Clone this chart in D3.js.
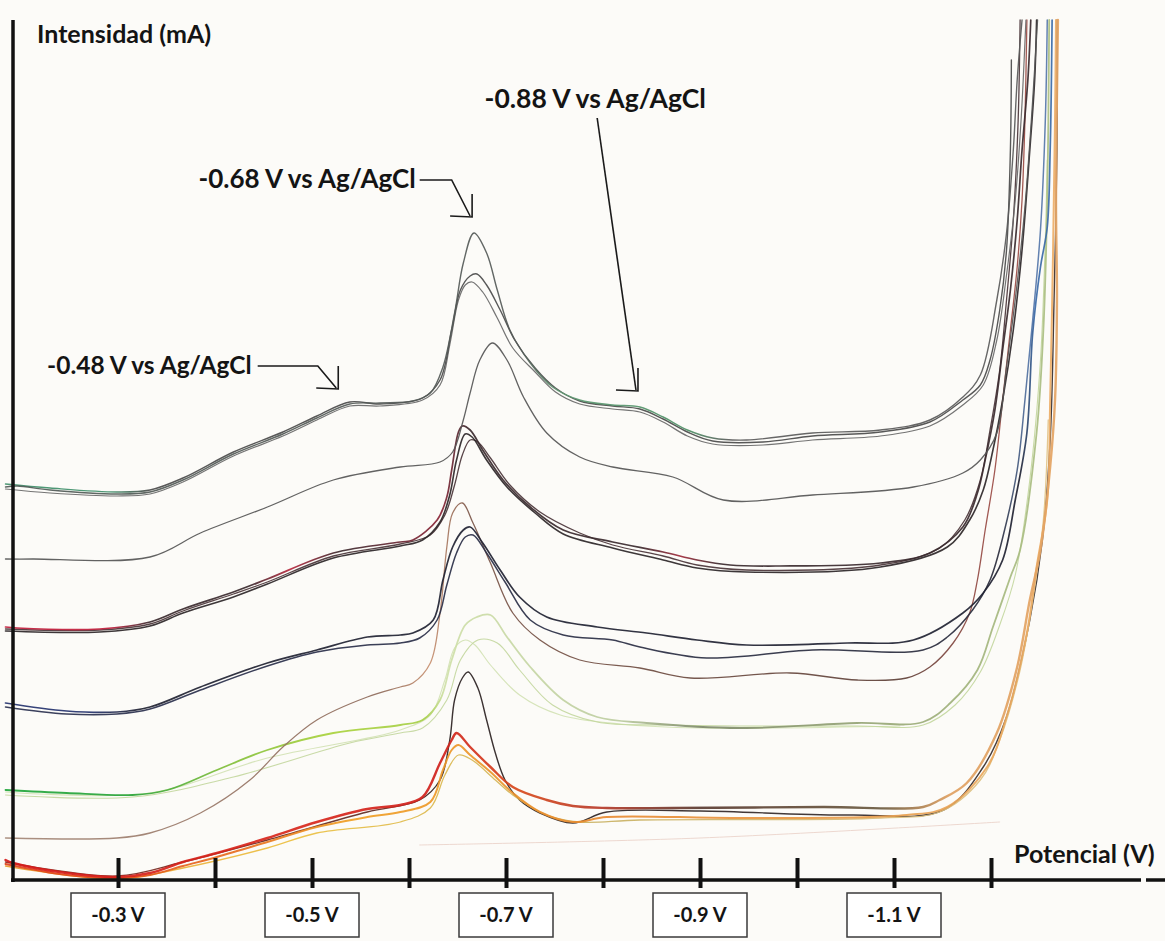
<!DOCTYPE html>
<html>
<head>
<meta charset="utf-8">
<script src="https://cdn.jsdelivr.net/npm/d3@7"></script>
<style>
  body { margin: 0; background: #fcfbf8; }
  svg { display: block; }
  text { font-family: Lato, "Open Sans", sans-serif; font-weight: bold; fill: #141414; }
</style>
</head>
<body>
<div id="chart"></div>
<script>
/* jshint esversion: 6 */
//// Data ////////////////////////////////////////////////////////////////////
// each curve: [potential (V vs Ag/AgCl), intensity (mA, arbitrary zero at axis)]

const tickPotentials = [-0.3, -0.4, -0.5, -0.6, -0.7, -0.8, -0.9, -1.0, -1.1, -1.2];
const labelPotentials = [-0.3, -0.5, -0.7, -0.9, -1.1];
const labelTexts = ["-0.3 V", "-0.5 V", "-0.7 V", "-0.9 V", "-1.1 V"];

const annotationTexts = ["-0.48 V vs Ag/AgCl", "-0.68 V vs Ag/AgCl", "-0.88 V vs Ag/AgCl"];
const annotationArrows = [
	[[-0.444, 51.4], [-0.506, 51.4], [-0.525, 49.2]],
	[[-0.611, 70.0], [-0.644, 70.0], [-0.663, 66.4]],
	[[-0.794, 76.2], [-0.834, 49.0]]
];

const curveA1 = [[-0.184,39.3],[-0.196,39.4],[-0.230,39.0],[-0.299,38.6],[-0.333,38.8],[-0.367,40.0],[-0.419,42.6],[-0.470,44.6],[-0.505,46.2],[-0.539,47.6],[-0.570,47.7],[-0.604,47.9],[-0.622,48.7],[-0.635,51.3],[-0.647,56.7],[-0.656,61.7],[-0.667,64.7],[-0.680,62.7],[-0.691,59.0],[-0.704,55.0],[-0.725,51.7],[-0.748,49.3],[-0.776,48.0],[-0.810,47.5],[-0.838,47.3],[-0.862,46.3],[-0.887,45.0],[-0.913,44.2],[-0.948,44.0],[-1.016,44.7],[-1.086,45.0],[-1.137,46.0],[-1.171,48.3],[-1.189,50.5],[-1.206,58.0],[-1.216,64.7],[-1.223,73.0],[-1.227,80.0],[-1.232,86.0]];
const curveA2 = [[-0.184,39.6],[-0.230,39.2],[-0.299,38.8],[-0.333,39.0],[-0.367,40.2],[-0.419,42.8],[-0.470,44.8],[-0.505,46.4],[-0.539,47.8],[-0.570,47.6],[-0.614,48.2],[-0.632,50.0],[-0.644,55.0],[-0.653,59.0],[-0.663,60.4],[-0.670,60.6],[-0.680,59.5],[-0.694,57.0],[-0.709,54.0],[-0.730,51.2],[-0.751,49.2],[-0.776,47.9],[-0.810,47.4],[-0.838,47.1],[-0.862,46.1],[-0.887,44.8],[-0.913,43.9],[-0.965,43.8],[-1.016,44.4],[-1.086,44.8],[-1.137,45.8],[-1.171,48.0],[-1.189,49.5],[-1.199,52.0],[-1.209,57.0],[-1.216,63.0],[-1.220,73.0],[-1.221,82.0]];
const curveA3 = [[-0.184,39.1],[-0.230,38.7],[-0.299,38.4],[-0.333,38.6],[-0.367,39.8],[-0.419,42.4],[-0.470,44.4],[-0.505,46.0],[-0.539,47.4],[-0.570,47.4],[-0.614,48.0],[-0.632,49.5],[-0.642,53.5],[-0.651,58.0],[-0.658,59.5],[-0.665,59.8],[-0.676,58.8],[-0.691,56.2],[-0.707,53.2],[-0.730,50.8],[-0.751,48.8],[-0.776,47.6],[-0.810,47.1],[-0.838,46.8],[-0.862,45.8],[-0.887,44.4],[-0.913,43.6],[-0.965,43.5],[-1.016,44.0],[-1.086,44.4],[-1.137,45.4],[-1.171,47.5],[-1.192,49.5],[-1.206,54.0],[-1.216,60.5],[-1.225,68.0],[-1.231,76.0],[-1.236,86.0]];
const curveB = [[-0.184,32.1],[-0.212,32.1],[-0.333,32.3],[-0.385,34.7],[-0.454,37.3],[-0.522,40.0],[-0.591,41.3],[-0.632,41.8],[-0.645,42.8],[-0.656,46.0],[-0.663,48.7],[-0.673,52.0],[-0.686,53.7],[-0.701,52.0],[-0.718,48.3],[-0.742,44.7],[-0.776,42.3],[-0.810,41.3],[-0.872,40.3],[-0.924,38.0],[-1.016,38.5],[-1.120,39.3],[-1.171,40.7],[-1.189,42.0],[-1.206,44.7],[-1.216,51.3],[-1.227,59.7],[-1.235,67.3],[-1.243,78.0],[-1.248,86.0]];
const curveC1 = [[-0.184,25.3],[-0.196,25.2],[-0.281,25.1],[-0.333,25.8],[-0.367,27.1],[-0.419,28.8],[-0.454,30.1],[-0.522,32.7],[-0.591,33.8],[-0.604,34.0],[-0.629,36.0],[-0.639,38.3],[-0.644,41.0],[-0.651,44.8],[-0.655,45.4],[-0.663,45.0],[-0.676,43.0],[-0.697,40.0],[-0.725,37.3],[-0.759,35.0],[-0.810,33.8],[-0.862,32.8],[-0.897,32.0],[-0.931,31.5],[-0.982,31.4],[-1.086,31.7],[-1.137,32.7],[-1.171,35.3],[-1.186,38.7],[-1.194,42.0],[-1.204,47.0],[-1.212,53.0],[-1.220,59.0],[-1.227,66.0],[-1.232,73.0],[-1.238,80.0],[-1.241,86.0]];
const curveC2 = [[-0.184,24.9],[-0.281,24.8],[-0.333,25.4],[-0.367,26.7],[-0.419,28.3],[-0.454,29.6],[-0.522,32.2],[-0.591,33.4],[-0.614,34.0],[-0.632,35.8],[-0.642,38.5],[-0.649,42.0],[-0.658,44.6],[-0.665,44.3],[-0.680,42.0],[-0.701,39.3],[-0.730,36.7],[-0.759,34.6],[-0.810,33.2],[-0.862,32.0],[-0.897,31.2],[-0.948,30.8],[-1.086,31.3],[-1.155,33.3],[-1.178,36.0],[-1.192,39.0],[-1.202,43.0],[-1.212,48.0],[-1.223,55.0],[-1.232,63.0],[-1.240,73.0],[-1.245,80.0],[-1.247,86.0]];
const curveC3 = [[-0.184,25.1],[-0.281,25.0],[-0.333,25.6],[-0.367,26.9],[-0.419,28.6],[-0.454,29.8],[-0.522,32.4],[-0.591,33.6],[-0.622,34.5],[-0.637,36.5],[-0.647,39.5],[-0.655,42.5],[-0.663,44.0],[-0.671,43.8],[-0.684,42.2],[-0.704,39.5],[-0.735,36.8],[-0.776,34.7],[-0.810,33.5],[-0.862,32.4],[-0.897,31.5],[-0.948,31.0],[-1.086,31.5],[-1.147,33.2],[-1.173,36.0],[-1.189,40.0],[-1.199,45.0],[-1.209,51.0],[-1.216,58.0],[-1.223,66.0],[-1.228,76.0],[-1.230,86.0]];
const curveD1 = [[-0.184,17.7],[-0.247,16.9],[-0.299,16.8],[-0.333,17.3],[-0.385,19.3],[-0.454,21.7],[-0.505,23.0],[-0.557,24.3],[-0.591,24.5],[-0.604,24.7],[-0.625,26.0],[-0.635,30.0],[-0.645,33.3],[-0.656,35.0],[-0.663,35.3],[-0.676,33.7],[-0.694,31.0],[-0.714,28.3],[-0.742,26.3],[-0.794,25.3],[-0.845,24.7],[-0.897,24.0],[-0.948,23.5],[-1.052,23.7],[-1.120,24.0],[-1.171,26.7],[-1.192,28.7],[-1.212,32.0],[-1.225,38.0],[-1.237,44.7],[-1.243,54.7],[-1.251,61.3],[-1.258,65.3],[-1.261,73.0],[-1.263,86.0]];
const curveD2 = [[-0.184,17.3],[-0.247,16.6],[-0.299,16.6],[-0.333,17.1],[-0.385,19.0],[-0.454,21.4],[-0.505,22.8],[-0.557,23.5],[-0.591,23.7],[-0.611,24.2],[-0.629,26.0],[-0.639,29.5],[-0.649,32.7],[-0.658,34.3],[-0.666,34.5],[-0.680,32.7],[-0.699,29.8],[-0.725,26.0],[-0.759,24.5],[-0.810,24.0],[-0.838,23.3],[-0.907,22.2],[-1.016,23.0],[-1.130,23.0],[-1.155,24.3],[-1.181,27.0],[-1.199,30.0],[-1.214,35.0],[-1.227,41.0],[-1.235,48.0],[-1.243,56.0],[-1.251,65.0],[-1.256,76.0],[-1.258,86.0]];
const curveE = [[-0.184,4.2],[-0.299,4.2],[-0.333,4.7],[-0.385,6.7],[-0.436,10.0],[-0.470,13.3],[-0.505,16.0],[-0.557,18.3],[-0.591,19.3],[-0.604,19.7],[-0.622,21.7],[-0.632,26.7],[-0.639,33.3],[-0.645,36.7],[-0.655,37.7],[-0.666,35.7],[-0.684,31.7],[-0.707,26.7],[-0.735,24.0],[-0.776,22.0],[-0.838,21.2],[-0.890,20.2],[-0.993,20.7],[-1.062,20.0],[-1.113,20.2],[-1.137,21.3],[-1.161,23.7],[-1.178,26.7],[-1.186,30.0],[-1.194,35.0],[-1.204,41.0],[-1.212,48.0],[-1.220,55.0],[-1.227,61.3],[-1.232,68.0],[-1.235,76.0],[-1.237,86.0]];
const curveF1 = [[-0.184,9.0],[-0.247,8.7],[-0.315,8.5],[-0.351,9.0],[-0.402,11.0],[-0.454,13.0],[-0.522,14.7],[-0.591,15.5],[-0.614,16.0],[-0.632,18.0],[-0.644,22.0],[-0.658,25.5],[-0.670,26.3],[-0.684,26.5],[-0.701,24.3],[-0.725,21.3],[-0.759,18.0],[-0.794,16.3],[-0.845,15.7],[-0.941,15.2],[-1.062,15.7],[-1.130,15.8],[-1.158,17.7],[-1.186,21.0],[-1.202,25.3],[-1.220,30.3],[-1.230,33.0],[-1.247,44.7],[-1.254,55.0],[-1.258,68.0],[-1.260,86.0]];
const curveF2 = [[-0.184,8.5],[-0.315,8.3],[-0.419,10.3],[-0.539,13.7],[-0.591,14.7],[-0.614,15.2],[-0.639,18.0],[-0.653,22.0],[-0.671,24.0],[-0.691,23.7],[-0.714,21.0],[-0.748,17.5],[-0.794,15.8],[-0.872,15.5],[-1.062,15.4],[-1.130,15.5],[-1.163,17.5],[-1.189,20.8],[-1.209,25.5],[-1.225,30.5],[-1.240,40.0],[-1.251,52.0],[-1.256,64.0],[-1.258,72.0]];
const curveF3 = [[-0.184,8.8],[-0.333,8.7],[-0.454,12.2],[-0.591,15.0],[-0.622,16.5],[-0.637,20.0],[-0.647,23.2],[-0.658,24.0],[-0.668,23.5],[-0.684,21.5],[-0.714,18.5],[-0.756,16.5],[-0.818,15.6],[-0.900,15.2],[-1.106,15.4]];
const curveG1 = [[-0.184,2.0],[-0.192,1.7],[-0.247,0.7],[-0.299,0.3],[-0.333,0.7],[-0.367,1.8],[-0.402,2.7],[-0.454,4.2],[-0.505,5.8],[-0.557,7.1],[-0.591,7.5],[-0.614,8.3],[-0.632,11.7],[-0.644,14.0],[-0.649,14.7],[-0.663,13.3],[-0.684,11.3],[-0.707,9.3],[-0.742,8.0],[-0.769,7.4],[-0.804,7.2],[-0.872,7.2],[-1.027,7.3],[-1.130,7.3],[-1.147,8.0],[-1.175,9.7],[-1.206,14.7],[-1.227,21.3],[-1.240,28.0],[-1.251,33.0],[-1.261,41.3],[-1.266,48.0],[-1.268,58.0],[-1.267,68.0],[-1.269,86.0]];
const curveG2 = [[-0.184,1.6],[-0.247,0.5],[-0.299,0.2],[-0.333,0.5],[-0.367,1.4],[-0.402,2.3],[-0.454,3.8],[-0.505,5.3],[-0.557,6.3],[-0.591,6.8],[-0.622,7.8],[-0.635,11.0],[-0.644,13.0],[-0.651,13.5],[-0.663,12.5],[-0.684,10.8],[-0.707,8.7],[-0.735,6.8],[-0.769,5.8],[-0.804,6.3],[-0.941,6.2],[-1.113,6.5],[-1.155,7.3],[-1.196,11.3],[-1.216,16.3],[-1.237,24.7],[-1.247,31.3],[-1.258,38.0],[-1.261,48.0],[-1.264,63.0],[-1.266,76.0],[-1.267,86.0]];
const curveG3 = [[-0.184,1.4],[-0.299,0.1],[-0.367,1.2],[-0.454,3.2],[-0.505,4.7],[-0.591,5.8],[-0.622,7.2],[-0.637,10.5],[-0.651,12.5],[-0.665,12.0],[-0.689,10.0],[-0.707,8.5],[-0.742,6.5],[-0.776,5.8],[-0.838,6.0],[-1.086,6.2],[-1.147,6.8],[-1.189,10.0],[-1.209,14.0],[-1.230,21.0],[-1.243,28.0],[-1.254,36.0],[-1.259,46.0]];
const curveG4 = [[-0.184,1.8],[-0.299,0.4],[-0.367,1.8],[-0.454,4.0],[-0.557,6.8],[-0.611,8.0],[-0.632,10.0],[-0.642,14.0],[-0.647,18.0],[-0.655,20.2],[-0.661,20.8],[-0.671,19.2],[-0.680,16.0],[-0.689,12.7],[-0.699,10.0],[-0.714,8.0],[-0.735,6.7],[-0.769,5.7],[-0.804,6.8],[-0.900,6.9],[-1.055,6.5],[-1.151,7.0],[-1.192,11.3],[-1.216,16.3],[-1.240,26.0],[-1.253,34.0],[-1.261,44.0],[-1.265,58.0],[-1.268,73.0],[-1.268,86.0]];
const curveFaint = [[-0.611,3.5],[-0.900,4.2],[-1.209,5.8]];

//// Set up //////////////////////////////////////////////////////////////////

const width = 1165,
			height = 941;

const x = d3.scaleLinear().domain([-0.3, -1.2]).range([118, 991]);
const y = d3.scaleLinear().domain([0, 86]).range([880, 20]);

const svg = d3.select("#chart").append("svg")
		.attr("width", width)
		.attr("height", height);

svg.append("rect")
		.attr("width", width)
		.attr("height", height)
		.attr("fill", "#fcfbf8");

const defs = svg.append("defs");

// stroke colour per curve; arrays are colour stops along the page x (px)
const series = [
	{ data: curveFaint, color: "#ecd5cc", w: 1 },
	{ data: curveF3, color: "#d3e2b4", w: 1.1 },
	{ data: curveF2, color: "#c3d79e", w: 1.1 },
	{ data: curveF1, color: [[0,"#1fa63a"],[130,"#2aa43a"],[220,"#7ebd3a"],[330,"#a9d23c"],[425,"#a6cf48"],[445,"#cfe0a8"],[620,"#bccca0"],[700,"#7e8a6a"],[900,"#9aaa78"],[1165,"#b9d08a"]], w: 1.8 },
	{ data: curveE, color: [[0,"#a58878"],[380,"#8e6a5a"],[430,"#c89070"],[470,"#7a5548"],[900,"#5e4038"],[990,"#9a4a44"],[1165,"#9a4a44"]], w: 1.3 },
	{ data: curveD2, color: [[0,"#2a3050"],[1000,"#2a2c3c"],[1030,"#5577aa"],[1165,"#5577aa"]], w: 1.5 },
	{ data: curveD1, color: [[0,"#25336e"],[90,"#25336e"],[140,"#202232"],[1020,"#202232"],[1035,"#3a6aa8"],[1165,"#3a6aa8"]], w: 1.7 },
	{ data: curveC3, color: "#4a3438", w: 1.3 },
	{ data: curveC2, color: "#2c2628", w: 1.6 },
	{ data: curveC1, color: [[0,"#c21e3c"],[110,"#c21e3c"],[150,"#3a2a2e"],[250,"#3a2a2e"],[290,"#b8283e"],[340,"#3a2a2e"],[440,"#8a2436"],[470,"#3a2a2e"],[640,"#3a2a2e"],[680,"#a02a3a"],[720,"#3a2a2e"],[1165,"#3a2a2e"]], w: 1.7 },
	{ data: curveB, color: "#555555", w: 1.3 },
	{ data: curveA3, color: "#686868", w: 1.2 },
	{ data: curveA2, color: [[0,"#3f8f6a"],[110,"#3f8f6a"],[150,"#4a4a4a"],[1165,"#4a4a4a"]], w: 1.4 },
	{ data: curveA1, color: [[0,"#505a56"],[520,"#555a58"],[560,"#5f9b73"],[690,"#4e8f66"],[730,"#5a5a5a"],[1165,"#5a5a5a"]], w: 1.4 },
	{ data: curveG4, color: [[0,"#8a2a20"],[400,"#5a2a22"],[440,"#2a2020"],[1165,"#3a3030"]], w: 1.4 },
	{ data: curveG3, color: [[0,"#e89a2a"],[300,"#ecc040"],[600,"#c8b060"],[1165,"#e8c890"]], w: 1.3 },
	{ data: curveG2, color: [[0,"#e0401a"],[250,"#e8701e"],[350,"#f0a024"],[600,"#e88a30"],[900,"#e8a050"],[1165,"#f0b878"]], w: 2.0 },
	{ data: curveG1, color: [[0,"#d61a1a"],[300,"#d8281c"],[440,"#d0201c"],[520,"#d84a1c"],[600,"#b83a2a"],[700,"#5a3a30"],[880,"#6a5a40"],[950,"#e0a060"],[1165,"#e8a868"]], w: 2.4 }
];

const line = d3.line()
		.x(d => x(d[0]))
		.y(d => y(d[1]))
		.curve(d3.curveCatmullRom.alpha(0.5));

const curvesG = svg.append("g").attr("id", "curves");

series.forEach((s, i) => {
	let stroke = s.color;
	if (Array.isArray(s.color)) {
		const id = "grad" + i;
		const grad = defs.append("linearGradient")
				.attr("id", id)
				.attr("gradientUnits", "userSpaceOnUse")
				.attr("x1", 0).attr("y1", 0)
				.attr("x2", width).attr("y2", 0);
		s.color.forEach(st => grad.append("stop")
				.attr("offset", st[0] / width)
				.attr("stop-color", st[1]));
		stroke = "url(#" + id + ")";
	}
	curvesG.append("path")
			.datum(s.data)
			.attr("d", line)
			.attr("fill", "none")
			.attr("stroke", stroke)
			.attr("stroke-width", s.w)
			.attr("stroke-linejoin", "round")
			.attr("stroke-linecap", "round")
			.attr("opacity", 0.92);
});

//// Axes ////////////////////////////////////////////////////////////////////

// vertical axis
svg.append("line")
		.attr("x1", 13).attr("x2", 13)
		.attr("y1", 20).attr("y2", y(0) + 2)
		.attr("stroke", "#111")
		.attr("stroke-width", 3.5);

// horizontal axis (with the small break near the end)
svg.append("line")
		.attr("x1", 11).attr("x2", 1141)
		.attr("y1", y(0)).attr("y2", y(0))
		.attr("stroke", "#111")
		.attr("stroke-width", 3.5);
svg.append("line")
		.attr("x1", 1146).attr("x2", width)
		.attr("y1", y(0)).attr("y2", y(0))
		.attr("stroke", "#111")
		.attr("stroke-width", 3.5);

const xAxis = d3.axisBottom(x)
		.tickValues(tickPotentials)
		.tickFormat("")
		.tickSizeOuter(0);

const gAxis = svg.append("g")
		.attr("transform", `translate(0, ${y(0)})`)
		.call(xAxis);
gAxis.select(".domain").remove();
gAxis.selectAll(".tick line")
		.attr("y1", -22)
		.attr("y2", 8)
		.attr("stroke", "#111")
		.attr("stroke-width", 4);

// boxed tick labels
const labels = svg.append("g")
		.selectAll("g")
		.data(labelPotentials)
		.enter().append("g")
			.attr("transform", d => `translate(${x(d)}, ${y(0)})`);
labels.append("rect")
		.attr("x", -47)
		.attr("y", 13)
		.attr("width", 94)
		.attr("height", 44)
		.attr("fill", "#fff")
		.attr("stroke", "#3a3a3a")
		.attr("stroke-width", 1.5);
labels.append("text")
		.attr("x", 0)
		.attr("y", 42)
		.attr("text-anchor", "middle")
		.style("font-size", "20px")
		.text((d, i) => labelTexts[i]);

// axis titles
svg.append("text")
		.attr("x", 37)
		.attr("y", 43)
		.style("font-size", "25px")
		.text("Intensidad (mA)");
svg.append("text")
		.attr("x", 1014)
		.attr("y", 863)
		.style("font-size", "25px")
		.text("Potencial (V)");

//// Annotations /////////////////////////////////////////////////////////////

const arrowLine = d3.line()
		.x(d => x(d[0]))
		.y(d => y(d[1]));

const textPlacement = [
	{ anchor: "end", dx: -6, dy: 8, size: 24.5 },
	{ anchor: "end", dx: -4, dy: 8, size: 26 },
	{ anchor: "middle", dx: -2, dy: -10, size: 26.5 }
];

annotationArrows.forEach((pts, i) => {
	const tip = pts[pts.length - 1];
	const tx = x(tip[0]), ty = y(tip[1]);
	svg.append("path")
			.attr("d", arrowLine(pts))
			.attr("fill", "none")
			.attr("stroke", "#1a1a1a")
			.attr("stroke-width", 1.6);
	// open corner head
	svg.append("path")
			.attr("d", `M${tx - 20},${ty} L${tx + 2},${ty + 1} L${tx + 2},${ty - 22}`)
			.attr("fill", "none")
			.attr("stroke", "#1a1a1a")
			.attr("stroke-width", 1.6);
	const p = textPlacement[i];
	svg.append("text")
			.attr("x", x(pts[0][0]) + p.dx)
			.attr("y", y(pts[0][1]) + p.dy)
			.attr("text-anchor", p.anchor)
			.style("font-size", p.size + "px")
			.text(annotationTexts[i]);
});
</script>
</body>
</html>
